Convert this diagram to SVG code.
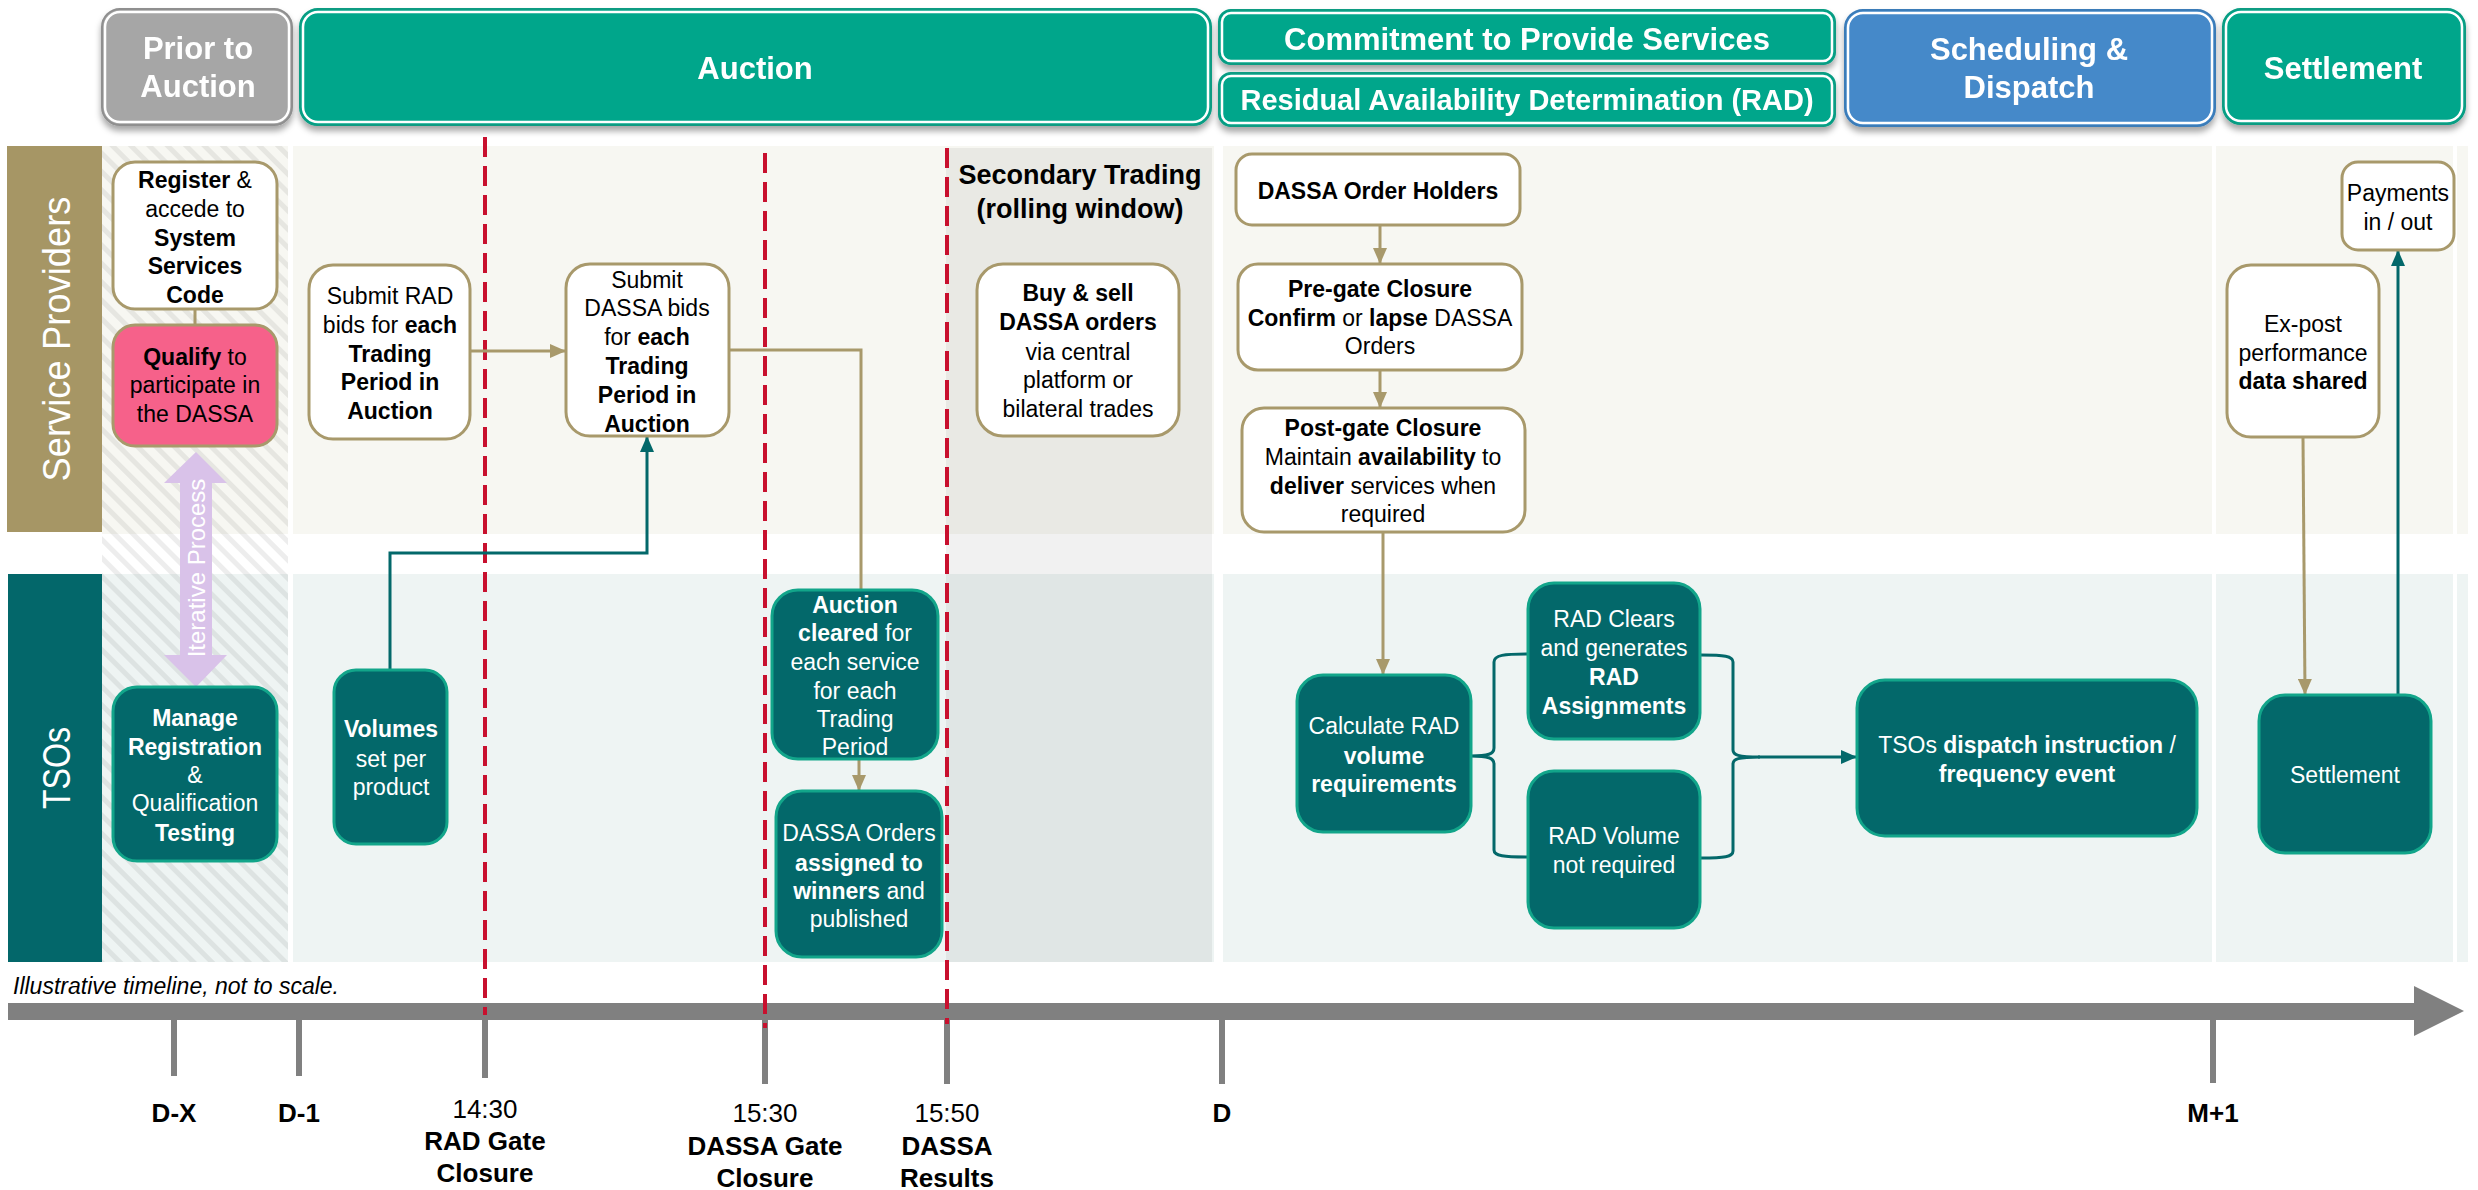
<svg xmlns="http://www.w3.org/2000/svg" width="2478" height="1190" viewBox="0 0 2478 1190">
<defs>
<style>
text{font-family:"Liberation Sans",Arial,sans-serif}
.hdr{font-size:31px;font-weight:bold;fill:#fff;text-anchor:middle}
.hdr2{font-size:29px;font-weight:bold;fill:#fff;text-anchor:middle}
.nt{font-size:23px;fill:#000;text-anchor:middle}
.nw{font-size:23px;fill:#fff;text-anchor:middle}
.b{font-weight:bold}
.ol{fill:#fff;stroke:#A8996B;stroke-width:3}
.tn{fill:#03686A;stroke:#12A58A;stroke-width:3}
.co{fill:none;stroke:#A8996B;stroke-width:3}
.ct{fill:none;stroke:#03686A;stroke-width:3}
.dash{stroke:#C8102E;stroke-width:4;stroke-dasharray:20 9;fill:none}
.tick{stroke:#808080;stroke-width:6}
.tl{font-size:26px;text-anchor:middle;fill:#000}
.hin{fill:none;stroke:#fff;stroke-width:2.5}
</style>
<pattern id="hatch" width="13" height="13" patternUnits="userSpaceOnUse" patternTransform="rotate(-45)">
<rect width="5" height="13" fill="#000" fill-opacity="0.07"/>
</pattern>
<marker id="aO" viewBox="0 0 16 14" refX="16" refY="7" markerWidth="16" markerHeight="14" markerUnits="userSpaceOnUse" orient="auto"><path d="M0,0 L16,7 L0,14 z" fill="#A8996B"/></marker>
<marker id="aT" viewBox="0 0 16 14" refX="16" refY="7" markerWidth="16" markerHeight="14" markerUnits="userSpaceOnUse" orient="auto"><path d="M0,0 L16,7 L0,14 z" fill="#03686A"/></marker>
<filter id="sh" x="-10%" y="-20%" width="120%" height="150%"><feDropShadow dx="0" dy="5" stdDeviation="3" flood-color="#000" flood-opacity="0.35"/></filter>
</defs>
<rect width="2478" height="1190" fill="#fff"/>

<!-- lanes -->
<g id="lanes">
<rect x="102" y="146" width="2366" height="388" fill="#F7F7F2"/>
<rect x="102" y="574" width="2366" height="388" fill="#EEF4F3"/>
<rect x="102" y="146" width="186" height="816" fill="url(#hatch)"/>
<rect x="946" y="148" width="266" height="814" fill="#000" fill-opacity="0.055"/>
<rect x="288" y="140" width="5" height="830" fill="#fff"/>
<rect x="1214" y="140" width="9" height="830" fill="#fff"/>
<rect x="2212" y="140" width="4" height="830" fill="#fff"/>
<rect x="2453" y="140" width="4" height="830" fill="#fff"/>
<rect x="7" y="146" width="95" height="386" fill="#A69665"/>
<text transform="translate(70,339) rotate(-90)" text-anchor="middle" font-size="38" fill="#fff" textLength="285" lengthAdjust="spacingAndGlyphs">Service Providers</text>
<rect x="8" y="574" width="94" height="388" fill="#03676A"/>
<text transform="translate(70,768) rotate(-90)" text-anchor="middle" font-size="38" fill="#fff" textLength="82" lengthAdjust="spacingAndGlyphs">TSOs</text>
</g>

<!-- headers -->
<g id="hdr-prior" filter="url(#sh)">
<rect x="102" y="9" width="190" height="116" rx="18" fill="#A6A6A6" stroke="#8F8F8F" stroke-width="2"/>
<rect x="105" y="12" width="184" height="110" rx="15" class="hin"/>
<text class="hdr" x="198" y="59">Prior to</text>
<text class="hdr" x="198" y="97">Auction</text>
</g>
<g id="hdr-auction" filter="url(#sh)">
<rect x="300" y="9" width="911" height="116" rx="18" fill="#03A68B" stroke="#079C82" stroke-width="2"/>
<rect x="303" y="12" width="905" height="110" rx="15" class="hin"/>
<text class="hdr" x="755" y="79">Auction</text>
</g>
<g id="hdr-commit" filter="url(#sh)">
<rect x="1219" y="10" width="616" height="54" rx="12" fill="#03A68B" stroke="#079C82" stroke-width="2"/>
<rect x="1222" y="13" width="610" height="48" rx="9" class="hin"/>
<text class="hdr" x="1527" y="50">Commitment to Provide Services</text>
</g>
<g id="hdr-rad" filter="url(#sh)">
<rect x="1219" y="73" width="616" height="53" rx="12" fill="#03A68B" stroke="#079C82" stroke-width="2"/>
<rect x="1222" y="76" width="610" height="47" rx="9" class="hin"/>
<text class="hdr2" x="1527" y="110">Residual Availability Determination (RAD)</text>
</g>
<g id="hdr-sched" filter="url(#sh)">
<rect x="1845" y="10" width="370" height="116" rx="18" fill="#4589C9" stroke="#3A7BB8" stroke-width="2"/>
<rect x="1848" y="13" width="364" height="110" rx="15" class="hin"/>
<text class="hdr" x="2029" y="60">Scheduling &amp;</text>
<text class="hdr" x="2029" y="98">Dispatch</text>
</g>
<g id="hdr-settle" filter="url(#sh)">
<rect x="2223" y="9" width="242" height="115" rx="18" fill="#03A68B" stroke="#079C82" stroke-width="2"/>
<rect x="2226" y="12" width="236" height="109" rx="15" class="hin"/>
<text class="hdr" x="2343" y="79">Settlement</text>
</g>

<!-- secondary trading title -->
<g id="secondary-title">
<text x="1080" y="184" text-anchor="middle" font-size="27" font-weight="bold">Secondary Trading</text>
<text x="1080" y="218" text-anchor="middle" font-size="27" font-weight="bold">(rolling window)</text>
</g>

<!-- timeline -->
<g id="timeline">
<rect x="8" y="1003" width="2410" height="17" fill="#808080"/>
<polygon points="2414,986 2464,1011 2414,1036" fill="#808080"/>
<line class="tick" x1="174" y1="1019" x2="174" y2="1076"/>
<line class="tick" x1="299" y1="1019" x2="299" y2="1076"/>
<line class="tick" x1="485" y1="1019" x2="485" y2="1078"/>
<line class="tick" x1="765" y1="1019" x2="765" y2="1084"/>
<line class="tick" x1="947" y1="1019" x2="947" y2="1084"/>
<line class="tick" x1="1222" y1="1019" x2="1222" y2="1084"/>
<line class="tick" x1="2213" y1="1019" x2="2213" y2="1083"/>
<text x="13" y="994" font-size="23" font-style="italic">Illustrative timeline, not to scale.</text>
<text class="tl b" x="174" y="1122">D-X</text>
<text class="tl b" x="299" y="1122">D-1</text>
<text class="tl" x="485" y="1118">14:30</text>
<text class="tl b" x="485" y="1150">RAD Gate</text>
<text class="tl b" x="485" y="1182">Closure</text>
<text class="tl" x="765" y="1122">15:30</text>
<text class="tl b" x="765" y="1155">DASSA Gate</text>
<text class="tl b" x="765" y="1187">Closure</text>
<text class="tl" x="947" y="1122">15:50</text>
<text class="tl b" x="947" y="1155">DASSA</text>
<text class="tl b" x="947" y="1187">Results</text>
<text class="tl b" x="1222" y="1122">D</text>
<text class="tl b" x="2213" y="1122">M+1</text>
</g>

<!-- gate lines -->
<g id="gates">
<line class="dash" x1="485" y1="137" x2="485" y2="1015"/>
<line class="dash" x1="765" y1="153" x2="765" y2="1028"/>
<line class="dash" x1="947" y1="148" x2="947" y2="1024"/>
</g>

<!-- iterative process -->
<g id="iterative">
<polygon points="196,452 227,483 212,483 212,655 227,655 196,687 164,655 180,655 180,483 164,483" fill="#D9C2E9"/>
<text transform="translate(205,568) rotate(-90)" text-anchor="middle" font-size="24" fill="#fff">Iterative Process</text>
</g>

<!-- connectors -->
<g id="connectors">
<line class="co" x1="195" y1="309" x2="195" y2="325"/>
<line class="co" x1="470" y1="351" x2="566" y2="351" marker-end="url(#aO)"/>
<polyline class="co" points="729,350 861,350 861,590"/>
<polyline class="ct" points="390,670 390,553 647,553 647,436" marker-end="url(#aT)"/>
<line class="co" x1="859" y1="759" x2="859" y2="791" marker-end="url(#aO)"/>
<line class="co" x1="1380" y1="225" x2="1380" y2="264" marker-end="url(#aO)"/>
<line class="co" x1="1380" y1="370" x2="1380" y2="408" marker-end="url(#aO)"/>
<line class="co" x1="1383" y1="532" x2="1383" y2="675" marker-end="url(#aO)"/>
<path class="ct" d="M1528,654 C1504,654 1494,655 1494,662 L1494,748 C1494,754 1488,756 1471,756 C1488,756 1494,758 1494,764 L1494,850 C1494,856 1504,857 1528,857"/>
<path class="ct" d="M1701,655 C1724,655 1733,656 1733,662 L1733,750 C1733,755 1738,757 1760,757 C1738,757 1733,759 1733,764 L1733,851 C1733,857 1724,858 1701,858"/>
<line class="ct" x1="1758" y1="757" x2="1857" y2="757" marker-end="url(#aT)"/>
<line class="co" x1="2303" y1="437" x2="2305" y2="695" marker-end="url(#aO)"/>
<line class="ct" x1="2398" y1="695" x2="2398" y2="250" marker-end="url(#aT)"/>
</g>

<!-- service provider nodes -->
<g id="n-register">
<rect class="ol" x="113" y="162" width="164" height="147" rx="22"/>
<text class="nt" x="195" y="188"><tspan class="b">Register</tspan> &amp;</text>
<text class="nt" x="195" y="217">accede to</text>
<text class="nt b" x="195" y="246">System</text>
<text class="nt b" x="195" y="274">Services</text>
<text class="nt b" x="195" y="303">Code</text>
</g>
<g id="n-qualify">
<rect x="113" y="325" width="164" height="121" rx="22" fill="#F6618A" stroke="#A8996B" stroke-width="3"/>
<text class="nt" x="195" y="365"><tspan class="b">Qualify</tspan> to</text>
<text class="nt" x="195" y="393">participate in</text>
<text class="nt" x="195" y="422">the DASSA</text>
</g>
<g id="n-submit-rad">
<rect class="ol" x="309" y="265" width="161" height="174" rx="24"/>
<text class="nt" x="390" y="304">Submit RAD</text>
<text class="nt" x="390" y="333">bids for <tspan class="b">each</tspan></text>
<text class="nt b" x="390" y="362">Trading</text>
<text class="nt b" x="390" y="390">Period in</text>
<text class="nt b" x="390" y="419">Auction</text>
</g>
<g id="n-submit-dassa">
<rect class="ol" x="566" y="264" width="163" height="172" rx="24"/>
<text class="nt" x="647" y="288">Submit</text>
<text class="nt" x="647" y="316">DASSA bids</text>
<text class="nt" x="647" y="345">for <tspan class="b">each</tspan></text>
<text class="nt b" x="647" y="374">Trading</text>
<text class="nt b" x="647" y="403">Period in</text>
<text class="nt b" x="647" y="432">Auction</text>
</g>
<g id="n-buy-sell">
<rect class="ol" x="977" y="264" width="202" height="172" rx="26"/>
<text class="nt b" x="1078" y="301">Buy &amp; sell</text>
<text class="nt b" x="1078" y="330">DASSA orders</text>
<text class="nt" x="1078" y="360">via central</text>
<text class="nt" x="1078" y="388">platform or</text>
<text class="nt" x="1078" y="417">bilateral trades</text>
</g>
<g id="n-order-holders">
<rect class="ol" x="1236" y="154" width="284" height="71" rx="16"/>
<text class="nt b" x="1378" y="199">DASSA Order Holders</text>
</g>
<g id="n-pregate">
<rect class="ol" x="1238" y="264" width="284" height="106" rx="20"/>
<text class="nt b" x="1380" y="297">Pre-gate Closure</text>
<text class="nt" x="1380" y="326"><tspan class="b">Confirm</tspan> or <tspan class="b">lapse</tspan> DASSA</text>
<text class="nt" x="1380" y="354">Orders</text>
</g>
<g id="n-postgate">
<rect class="ol" x="1242" y="408" width="283" height="124" rx="22"/>
<text class="nt b" x="1383" y="436">Post-gate Closure</text>
<text class="nt" x="1383" y="465">Maintain <tspan class="b">availability</tspan> to</text>
<text class="nt" x="1383" y="494"><tspan class="b">deliver</tspan> services when</text>
<text class="nt" x="1383" y="522">required</text>
</g>
<g id="n-payments">
<rect class="ol" x="2342" y="162" width="112" height="88" rx="16"/>
<text class="nt" x="2398" y="201">Payments</text>
<text class="nt" x="2398" y="230">in / out</text>
</g>
<g id="n-expost">
<rect class="ol" x="2227" y="265" width="152" height="172" rx="24"/>
<text class="nt" x="2303" y="332">Ex-post</text>
<text class="nt" x="2303" y="361">performance</text>
<text class="nt b" x="2303" y="389">data shared</text>
</g>

<!-- TSO nodes -->
<g id="n-manage">
<rect class="tn" x="113" y="687" width="164" height="174" rx="24"/>
<text class="nw b" x="195" y="726">Manage</text>
<text class="nw b" x="195" y="755">Registration</text>
<text class="nw" x="195" y="783">&amp;</text>
<text class="nw" x="195" y="811">Qualification</text>
<text class="nw b" x="195" y="841">Testing</text>
</g>
<g id="n-volumes">
<rect class="tn" x="334" y="670" width="113" height="174" rx="22"/>
<text class="nw b" x="391" y="737">Volumes</text>
<text class="nw" x="391" y="767">set per</text>
<text class="nw" x="391" y="795">product</text>
</g>
<g id="n-auction-cleared">
<rect class="tn" x="772" y="590" width="166" height="169" rx="26"/>
<text class="nw b" x="855" y="613">Auction</text>
<text class="nw" x="855" y="641"><tspan class="b">cleared</tspan> for</text>
<text class="nw" x="855" y="670">each service</text>
<text class="nw" x="855" y="699">for each</text>
<text class="nw" x="855" y="727">Trading</text>
<text class="nw" x="855" y="755">Period</text>
</g>
<g id="n-dassa-orders">
<rect class="tn" x="776" y="791" width="166" height="166" rx="26"/>
<text class="nw" x="859" y="841">DASSA Orders</text>
<text class="nw b" x="859" y="871">assigned to</text>
<text class="nw" x="859" y="899"><tspan class="b">winners</tspan> and</text>
<text class="nw" x="859" y="927">published</text>
</g>
<g id="n-calc-rad">
<rect class="tn" x="1297" y="675" width="174" height="157" rx="26"/>
<text class="nw" x="1384" y="734">Calculate RAD</text>
<text class="nw b" x="1384" y="764">volume</text>
<text class="nw b" x="1384" y="792">requirements</text>
</g>
<g id="n-rad-clears">
<rect class="tn" x="1528" y="583" width="172" height="156" rx="26"/>
<text class="nw" x="1614" y="627">RAD Clears</text>
<text class="nw" x="1614" y="656">and generates</text>
<text class="nw b" x="1614" y="685">RAD</text>
<text class="nw b" x="1614" y="714">Assignments</text>
</g>
<g id="n-rad-volume">
<rect class="tn" x="1528" y="771" width="172" height="157" rx="26"/>
<text class="nw" x="1614" y="844">RAD Volume</text>
<text class="nw" x="1614" y="873">not required</text>
</g>
<g id="n-dispatch">
<rect class="tn" x="1857" y="680" width="340" height="156" rx="28"/>
<text class="nw" x="2027" y="753">TSOs <tspan class="b">dispatch instruction</tspan> /</text>
<text class="nw b" x="2027" y="782">frequency event</text>
</g>
<g id="n-settlement">
<rect class="tn" x="2259" y="695" width="172" height="158" rx="26"/>
<text class="nw" x="2345" y="783">Settlement</text>
</g>
</svg>
